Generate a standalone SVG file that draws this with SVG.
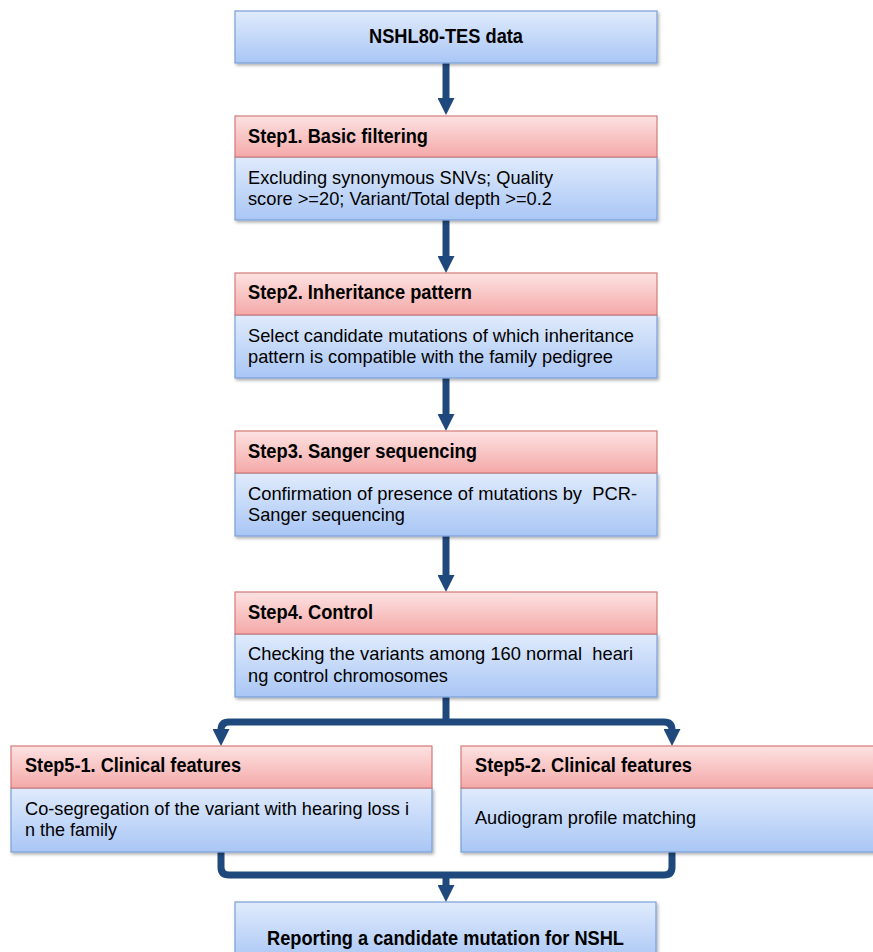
<svg xmlns="http://www.w3.org/2000/svg" width="873" height="952" viewBox="0 0 873 952">
<style>
  text { font-family: "Liberation Sans Narrow", "Liberation Sans", Arial, sans-serif; fill: #000; white-space: pre; }
  .title { font-size: 21px; font-weight: bold; text-anchor: middle; }
  .head { font-size: 20px; font-weight: bold; }
  .body { font-size: 18.5px; }
  .blue { fill: url(#gBlue); stroke: #7a9fd6; stroke-width: 1.2; filter: url(#sh); }
  .red { fill: url(#gRed); stroke: #d27a78; stroke-width: 1.2; }
  .conn { fill: none; stroke: #1f497d; stroke-width: 7; }
</style>
<defs>
  <linearGradient id="gBlue" x1="0" y1="0" x2="0" y2="1">
    <stop offset="0" stop-color="#e0ebfc"/>
    <stop offset="1" stop-color="#a9c6f5"/>
  </linearGradient>
  <linearGradient id="gRed" x1="0" y1="0" x2="0" y2="1">
    <stop offset="0" stop-color="#fde2e2"/>
    <stop offset="1" stop-color="#f4a9a8"/>
  </linearGradient>
  <filter id="sh" x="-5%" y="-10%" width="110%" height="130%">
    <feDropShadow dx="1.5" dy="2" stdDeviation="1.5" flood-color="#000" flood-opacity="0.3"/>
  </filter>
  <marker id="ah" viewBox="0 0 17 17" markerWidth="17" markerHeight="17" markerUnits="userSpaceOnUse" refX="2" refY="8.5" orient="auto">
    <path d="M0,0 L17,8.5 L0,17 z" fill="#1f497d"/>
  </marker>
</defs>

<g id="connectors">
  <path class="conn" d="M446,63 V100" marker-end="url(#ah)"/>
  <path class="conn" d="M446,220 V258" marker-end="url(#ah)"/>
  <path class="conn" d="M446,378 V416" marker-end="url(#ah)"/>
  <path class="conn" d="M446,536 V577" marker-end="url(#ah)"/>
  <path class="conn" d="M446,697 V722"/>
  <path class="conn" d="M446,722 H229 Q221,722 221,730 V731" marker-end="url(#ah)"/>
  <path class="conn" d="M446,722 H664 Q672,722 672,730 V731" marker-end="url(#ah)"/>
  <path class="conn" d="M221,852 V867 Q221,875 229,875 H664 Q672,875 672,867 V852"/>
  <path class="conn" d="M446,875 V887" marker-end="url(#ah)"/>
</g>

<g id="start">
  <rect class="blue" x="235" y="11" width="422" height="52"/>
  <text class="title" x="446" y="43" textLength="154" lengthAdjust="spacingAndGlyphs">NSHL80-TES data</text>
</g>

<g id="step1">
  <rect class="blue" x="235" y="157" width="422" height="63"/>
  <rect class="red" x="235" y="116" width="422" height="41"/>
  <text class="head" x="248" y="143" textLength="180" lengthAdjust="spacingAndGlyphs">Step1. Basic filtering</text>
  <text class="body" x="248" y="184" textLength="305" lengthAdjust="spacingAndGlyphs">Excluding synonymous SNVs; Quality</text>
  <text class="body" x="248" y="205" textLength="304" lengthAdjust="spacingAndGlyphs">score &gt;=20; Variant/Total depth &gt;=0.2</text>
</g>

<g id="step2">
  <rect class="blue" x="235" y="315" width="422" height="63"/>
  <rect class="red" x="235" y="273" width="422" height="42"/>
  <text class="head" x="248" y="299" textLength="224" lengthAdjust="spacingAndGlyphs">Step2. Inheritance pattern</text>
  <text class="body" x="248" y="342" textLength="386" lengthAdjust="spacingAndGlyphs">Select candidate mutations of which inheritance</text>
  <text class="body" x="248" y="363" textLength="365" lengthAdjust="spacingAndGlyphs">pattern is compatible with the family pedigree</text>
</g>

<g id="step3">
  <rect class="blue" x="235" y="473" width="422" height="63"/>
  <rect class="red" x="235" y="431" width="422" height="42"/>
  <text class="head" x="248" y="458" textLength="229" lengthAdjust="spacingAndGlyphs">Step3. Sanger sequencing</text>
  <text class="body" x="248" y="500" textLength="389" lengthAdjust="spacingAndGlyphs">Confirmation of presence of mutations by  PCR-</text>
  <text class="body" x="248" y="521" textLength="157" lengthAdjust="spacingAndGlyphs">Sanger sequencing</text>
</g>

<g id="step4">
  <rect class="blue" x="235" y="634" width="422" height="63"/>
  <rect class="red" x="235" y="592" width="422" height="42"/>
  <text class="head" x="248" y="619" textLength="125" lengthAdjust="spacingAndGlyphs">Step4. Control</text>
  <text class="body" x="248" y="660" textLength="385" lengthAdjust="spacingAndGlyphs">Checking the variants among 160 normal  heari</text>
  <text class="body" x="248" y="682" textLength="200" lengthAdjust="spacingAndGlyphs">ng control chromosomes</text>
</g>

<g id="step5-1">
  <rect class="blue" x="11" y="788" width="421" height="64"/>
  <rect class="red" x="11" y="746" width="421" height="42"/>
  <text class="head" x="25" y="772" textLength="216" lengthAdjust="spacingAndGlyphs">Step5-1. Clinical features</text>
  <text class="body" x="25" y="815" textLength="384" lengthAdjust="spacingAndGlyphs">Co-segregation of the variant with hearing loss i</text>
  <text class="body" x="25" y="836" textLength="92" lengthAdjust="spacingAndGlyphs">n the family</text>
</g>

<g id="step5-2">
  <rect class="blue" x="461" y="788" width="421" height="64"/>
  <rect class="red" x="461" y="746" width="421" height="42"/>
  <text class="head" x="475" y="772" textLength="217" lengthAdjust="spacingAndGlyphs">Step5-2. Clinical features</text>
  <text class="body" x="475" y="824" textLength="221" lengthAdjust="spacingAndGlyphs">Audiogram profile matching</text>
</g>

<g id="report">
  <rect class="blue" x="235" y="902" width="421" height="60"/>
  <text class="title" x="445.5" y="945" textLength="357" lengthAdjust="spacingAndGlyphs">Reporting a candidate mutation for NSHL</text>
</g>
</svg>
